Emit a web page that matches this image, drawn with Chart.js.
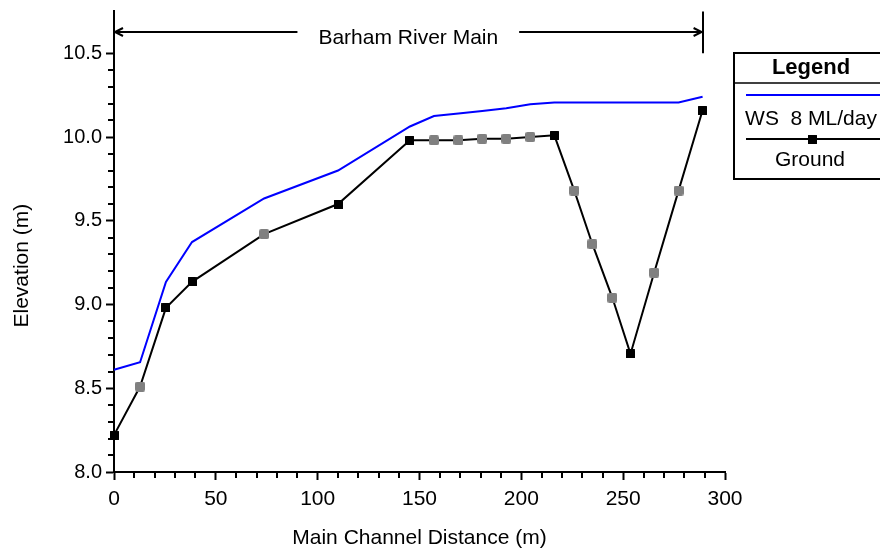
<!DOCTYPE html>
<html><head><meta charset="utf-8">
<style>html,body{margin:0;padding:0;background:#fff;}#wrap{width:880px;height:549px;position:relative;}</style>
<script src="https://cdn.jsdelivr.net/npm/chart.js@4.4.1/dist/chart.umd.min.js"></script>
</head><body><div id="wrap"><canvas id="c" width="880" height="549"></canvas></div>
<script>
// ---- data ----
const distance = [0, 12.8, 25.5, 38.3, 73.7, 110, 145.3, 157.1, 169.1, 180.8, 192.6, 204.4, 216.2, 226, 234.9, 244.7, 253.6, 265.2, 277.2, 289];
const ground   = [8.22, 8.51, 8.98, 9.135, 9.42, 9.60, 9.98, 9.98, 9.98, 9.99, 9.99, 10.00, 10.01, 9.68, 9.36, 9.04, 8.705, 9.19, 9.68, 10.16];
const ws8      = [8.61, 8.655, 9.135, 9.373, 9.633, 9.80, 10.063, 10.125, 10.14, 10.156, 10.172, 10.195, 10.206, 10.206, 10.206, 10.206, 10.206, 10.206, 10.206, 10.24];
// S = surveyed cross-section, I = interpolated cross-section
const stationKind = ['S','I','S','S','I','S','S','I','I','I','I','I','S','I','I','I','S','I','I','S'];
const seriesLabels = ['WS  8 ML/day', 'Ground'];
const reachName = 'Barham River Main';
const legendTitle = 'Legend';
const xTitle = 'Main Channel Distance (m)';
const yTitle = 'Elevation (m)';
const xRange = [0, 300], xMajorStep = 50, xMinorStep = 10;
const yRange = [8, 10.75], yMajorStep = 0.5, yMinorStep = 0.1, yTickTop = 10.5;
const reachLabelLevel = 10.627;

const FONT = 'Liberation Sans, Arial, sans-serif';
const pts = (ys) => distance.map((d, i) => ({x: d, y: ys[i]}));

function markerCanvas(size, color, radius) {
  const c = document.createElement('canvas');
  c.width = size; c.height = size;
  const g = c.getContext('2d');
  g.fillStyle = color;
  g.beginPath();
  if (g.roundRect) g.roundRect(0, 0, size, size, radius); else g.rect(0, 0, size, size);
  g.fill();
  return c;
}
const markSurveyed = markerCanvas(9, '#000000', 0.5);
const markInterp = markerCanvas(10, '#808080', 2);

const decor = {
  id: 'decor',
  afterDraw(chart) {
    const {ctx, chartArea: a, scales: {x, y}} = chart;
    ctx.save();
    ctx.strokeStyle = '#000'; ctx.fillStyle = '#000'; ctx.lineWidth = 2; ctx.lineCap = 'butt';
    // minor ticks
    ctx.beginPath();
    const nx = Math.round((xRange[1] - xRange[0]) / xMinorStep);
    for (let i = 1; i < nx; i++) {
      const v = xRange[0] + i * xMinorStep;
      if (Math.abs(v / xMajorStep - Math.round(v / xMajorStep)) < 1e-6) continue;
      const px = Math.round(x.getPixelForValue(v));
      ctx.moveTo(px, a.bottom); ctx.lineTo(px, a.bottom + 6);
    }
    const ny = Math.round((yTickTop - yRange[0]) / yMinorStep);
    for (let i = 1; i < ny; i++) {
      const v = yRange[0] + i * yMinorStep;
      if (Math.abs(v / yMajorStep - Math.round(v / yMajorStep)) < 1e-6) continue;
      const py = Math.round(y.getPixelForValue(v));
      ctx.moveTo(a.left, py); ctx.lineTo(a.left - 6, py);
    }
    ctx.stroke();

    // y-axis title
    ctx.save();
    ctx.font = '21px ' + FONT;
    ctx.textAlign = 'center'; ctx.textBaseline = 'middle';
    ctx.translate(22, (y.getPixelForValue(yRange[0]) + y.getPixelForValue(yTickTop)) / 2 + 3);
    ctx.rotate(-Math.PI / 2);
    ctx.fillText(yTitle, 0, 0);
    ctx.restore();

    // reach annotation
    const x0 = x.getPixelForValue(distance[0]);
    const x1 = x.getPixelForValue(distance[distance.length - 1]);
    const ay = Math.round(y.getPixelForValue(reachLabelLevel));
    ctx.font = '21px ' + FONT;
    const tw = ctx.measureText(reachName).width;
    const cx = (x0 + x1) / 2;
    ctx.beginPath();
    ctx.moveTo(x0, ay); ctx.lineTo(cx - tw / 2 - 21, ay);
    ctx.moveTo(cx + tw / 2 + 21, ay); ctx.lineTo(x1, ay);
    ctx.moveTo(x0 + 9, ay - 4); ctx.lineTo(x0 + 1, ay); ctx.lineTo(x0 + 9, ay + 4);
    ctx.moveTo(x1 - 9, ay - 4); ctx.lineTo(x1 - 1, ay); ctx.lineTo(x1 - 9, ay + 4);
    ctx.moveTo(Math.round(x1), a.top); ctx.lineTo(Math.round(x1), y.getPixelForValue(yTickTop));
    ctx.stroke();
    ctx.textAlign = 'center'; ctx.textBaseline = 'alphabetic';
    ctx.fillText(reachName, cx, ay + 12);

    // legend box
    const L = 734, T = 53, B = 179, R = 890, mid = 811;
    ctx.lineWidth = 2;
    ctx.strokeRect(L, T, R - L, B - T);
    ctx.lineWidth = 1.5;
    ctx.beginPath(); ctx.moveTo(L, 83); ctx.lineTo(R, 83); ctx.stroke();
    ctx.font = 'bold 22px ' + FONT; ctx.textBaseline = 'middle';
    ctx.fillText(legendTitle, mid, 68);
    const ds = chart.data.datasets;
    ctx.lineWidth = 2;
    ctx.strokeStyle = ds[0].borderColor;
    ctx.beginPath(); ctx.moveTo(746, 95); ctx.lineTo(R, 95); ctx.stroke();
    ctx.font = '21px ' + FONT; ctx.fillStyle = '#000';
    ctx.fillText(ds[0].label, mid, 119);
    ctx.strokeStyle = ds[1].borderColor;
    ctx.beginPath(); ctx.moveTo(746, 139); ctx.lineTo(R, 139); ctx.stroke();
    ctx.drawImage(markSurveyed, mid + 1 - 4.5, 139 - 4.5);
    ctx.fillText(ds[1].label, mid - 1, 160);
    ctx.restore();
  }
};

new Chart(document.getElementById('c'), {
  type: 'line',
  data: {
    datasets: [
      {
        label: seriesLabels[0], data: pts(ws8), clip: false,
        borderColor: '#0000ff', borderWidth: 2, pointRadius: 0, tension: 0, fill: false
      },
      {
        label: seriesLabels[1], data: pts(ground), clip: false,
        borderColor: '#000000', borderWidth: 2, tension: 0, fill: false,
        pointStyle: stationKind.map(k => k === 'S' ? markSurveyed : markInterp),
        pointRadius: 5
      }
    ]
  },
  options: {
    responsive: false, animation: false, devicePixelRatio: 1,
    layout: {padding: {top: 11.4, right: 155, bottom: 0, left: 0}},
    plugins: {legend: {display: false}, tooltip: {enabled: false}},
    scales: {
      x: {
        type: 'linear', min: xRange[0], max: xRange[1],
        ticks: {stepSize: xMajorStep, color: '#000', font: {family: FONT, size: 21}, padding: 7, maxRotation: 0, autoSkip: false},
        grid: {display: true, drawOnChartArea: false, drawTicks: true, tickLength: 8, tickWidth: 2, tickColor: '#000'},
        border: {display: true, color: '#000', width: 2},
        title: {display: true, text: xTitle, color: '#000', font: {family: FONT, size: 21, lineHeight: 1}, padding: {top: 0, bottom: 0}},
        afterFit: (s) => { s.height = 77; s.paddingLeft = 0; s.paddingRight = 0; }
      },
      y: {
        type: 'linear', min: yRange[0], max: yRange[1],
        ticks: {stepSize: yMajorStep, includeBounds: false, color: '#000', font: {family: FONT, size: 20}, padding: 4,
          callback: (v) => v.toFixed(1)},
        grid: {display: true, drawOnChartArea: false, drawTicks: true, tickLength: 8, tickWidth: 2, tickColor: '#000'},
        border: {display: true, color: '#000', width: 2},
        afterFit: (s) => { s.width = 114; s.paddingTop = 0; s.paddingBottom = 0; }
      }
    }
  },
  plugins: [decor]
});
</script>
</body></html>
